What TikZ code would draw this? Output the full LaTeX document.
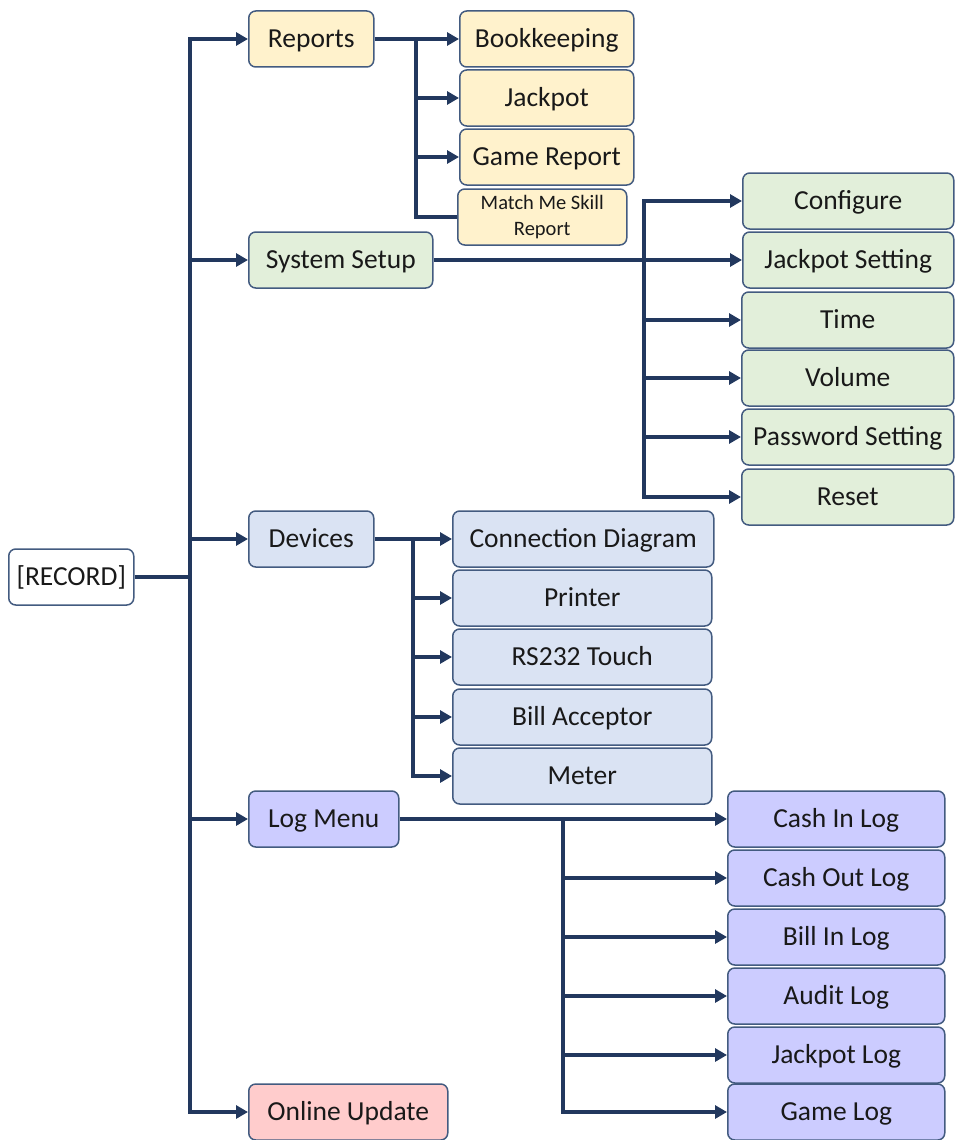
\documentclass[tikz,border=0pt]{standalone}
\usepackage{fontspec}
\setmainfont{Carlito}
\usetikzlibrary{arrows.meta}
\definecolor{ln}{HTML}{22385E}
\definecolor{bd}{HTML}{435B80}
\definecolor{cy}{HTML}{FFF2CC}
\definecolor{cg}{HTML}{E2EFDA}
\definecolor{cb}{HTML}{DAE3F3}
\definecolor{cl}{HTML}{CCCCFF}
\definecolor{cp}{HTML}{FFCCCC}
\tikzset{
 box/.style={draw=bd, line width=1.5pt, rounded corners=7pt, minimum height=56pt, inner sep=1pt, anchor=west, font=\fontsize{27.5}{31}\selectfont, text=black!90, text height=17.7pt, text depth=0pt},
 wire/.style={draw=ln, line width=4.4pt, line join=miter},
 arr/.style={wire, -{Triangle[length=12pt,width=13pt]}},
}
\begin{document}
\begin{tikzpicture}[x=1pt,y=-1pt]
\useasboundingbox (0,0) rectangle (954,1140);
% level 0 and 1
\node[box, fill=white, minimum width=125] (rec) at (8,577) {[RECORD]};
\node[box, fill=cy, minimum width=125] (rep) at (248,39) {Reports};
\node[box, fill=cg, minimum width=184] (sys) at (248,260) {System Setup};
\node[box, fill=cb, minimum width=125] (dev) at (248,539) {Devices};
\node[box, fill=cl, minimum width=150] (log) at (248,819) {Log Menu};
\node[box, fill=cp, minimum width=199] (onl) at (248,1112) {Online Update};
% reports children
\node[box, fill=cy, minimum width=174] (bk) at (459,39) {Bookkeeping};
\node[box, fill=cy, minimum width=174] (jp) at (459,98) {Jackpot};
\node[box, fill=cy, minimum width=174] (gr) at (459,157) {Game Report};
\node[box, fill=cy, minimum width=169, align=center, text height=, text depth=, font=\fontsize{20.5}{26}\selectfont] (mm) at (457,217) {Match Me Skill\\Report};
% system children
\node[box, fill=cg, minimum width=211] (cf) at (742,201) {Configure};
\node[box, fill=cg, minimum width=211] (js) at (742,260) {Jackpot Setting};
\node[box, fill=cg, minimum width=212] (tm) at (741,320) {Time};
\node[box, fill=cg, minimum width=212] (vo) at (741,378) {Volume};
\node[box, fill=cg, minimum width=212] (ps) at (741,437) {Password Setting};
\node[box, fill=cg, minimum width=212] (rs) at (741,497) {Reset};
% devices children
\node[box, fill=cb, minimum width=261] (cd) at (452,539) {Connection Diagram};
\node[box, fill=cb, minimum width=259] (pr) at (452,598) {Printer};
\node[box, fill=cb, minimum width=259] (rt) at (452,657) {RS232 Touch};
\node[box, fill=cb, minimum width=259] (ba) at (452,717) {Bill Acceptor};
\node[box, fill=cb, minimum width=259] (mt) at (452,776) {Meter};
% log children
\node[box, fill=cl, minimum width=217] (ci) at (727,819) {Cash In Log};
\node[box, fill=cl, minimum width=217] (co) at (727,878) {Cash Out Log};
\node[box, fill=cl, minimum width=217] (bi) at (727,937) {Bill In Log};
\node[box, fill=cl, minimum width=217] (al) at (727,996) {Audit Log};
\node[box, fill=cl, minimum width=217] (jl) at (727,1055) {Jackpot Log};
\node[box, fill=cl, minimum width=217] (gl) at (727,1112) {Game Log};
% trunk
\coordinate (tt) at (190,39);
\draw[wire] (rec.east) -- (rec.east -| tt);
\draw[arr] (onl.west -| tt) -- (tt) -- (rep.west);
\draw[arr] (tt) -- (onl.west -| tt) -- (onl.west);
\draw[arr] (sys.west -| tt) -- (sys.west);
\draw[arr] (dev.west -| tt) -- (dev.west);
\draw[arr] (log.west -| tt) -- (log.west);
% reports branch
\coordinate (rb) at (416,39);
\draw[arr] (rep.east) -- (bk.west);
\draw[wire] (rb) -- (rb |- mm.west) -- (mm.west);
\draw[arr] (rb |- jp.west) -- (jp.west);
\draw[arr] (rb |- gr.west) -- (gr.west);
% system branch
\coordinate (sb) at (644,260);
\draw[arr] (sys.east) -- (js.west);
\draw[arr] (sb |- rs.west) -- (sb |- cf.west) -- (cf.west);
\draw[arr] (sb |- cf.west) -- (sb |- rs.west) -- (rs.west);
\draw[arr] (sb |- tm.west) -- (tm.west);
\draw[arr] (sb |- vo.west) -- (vo.west);
\draw[arr] (sb |- ps.west) -- (ps.west);
% devices branch
\coordinate (db) at (413,539);
\draw[arr] (dev.east) -- (cd.west);
\draw[arr] (db) -- (db |- mt.west) -- (mt.west);
\draw[arr] (db |- pr.west) -- (pr.west);
\draw[arr] (db |- rt.west) -- (rt.west);
\draw[arr] (db |- ba.west) -- (ba.west);
% log branch
\coordinate (lb) at (563,819);
\draw[arr] (log.east) -- (ci.west);
\draw[arr] (lb) -- (lb |- gl.west) -- (gl.west);
\draw[arr] (lb |- co.west) -- (co.west);
\draw[arr] (lb |- bi.west) -- (bi.west);
\draw[arr] (lb |- al.west) -- (al.west);
\draw[arr] (lb |- jl.west) -- (jl.west);
\end{tikzpicture}
\end{document}
